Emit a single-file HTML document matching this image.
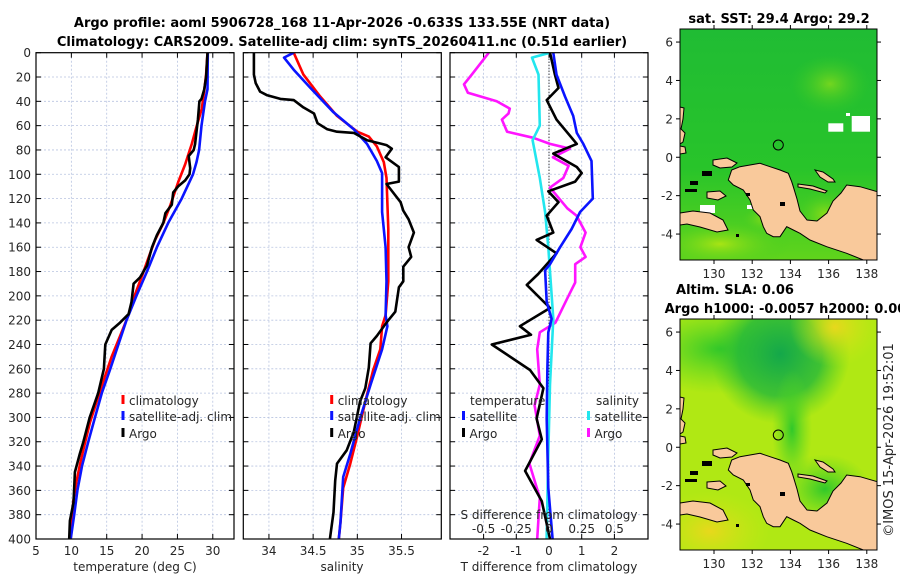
<!DOCTYPE html>
<html><head><meta charset="utf-8">
<style>
html,body{margin:0;padding:0;background:#fff;}
svg{display:block;font-family:"DejaVu Sans","Liberation Sans",sans-serif;}
.tk{font-size:12px;fill:#262626;}
.ttl{font-size:13px;font-weight:bold;fill:#000;}
</style></head>
<body>
<svg id="fig" width="900" height="580" viewBox="0 0 900 580" xmlns="http://www.w3.org/2000/svg">
<defs>
<clipPath id="c1"><rect x="36" y="52.7" width="198" height="486.3"/></clipPath>
<clipPath id="c2"><rect x="243.3" y="52.7" width="198" height="486.3"/></clipPath>
<clipPath id="c3"><rect x="450" y="52.7" width="198" height="486.3"/></clipPath>
<clipPath id="mc"><rect x="0" y="0" width="197" height="231"/></clipPath>
<radialGradient id="gDark" cx="0.5" cy="0.5" r="0.5"><stop offset="0" stop-color="#14a84a"/><stop offset="0.6" stop-color="#22b83a" stop-opacity="0.8"/><stop offset="1" stop-color="#44cc22" stop-opacity="0"/></radialGradient>
<radialGradient id="gYel" cx="0.5" cy="0.5" r="0.5"><stop offset="0" stop-color="#e8d81c"/><stop offset="1" stop-color="#c8e814" stop-opacity="0"/></radialGradient>
<radialGradient id="gGrn" cx="0.5" cy="0.5" r="0.5"><stop offset="0" stop-color="#30c82a"/><stop offset="1" stop-color="#60d820" stop-opacity="0"/></radialGradient>
<radialGradient id="gLime" cx="0.5" cy="0.5" r="0.5"><stop offset="0" stop-color="#a8e414"/><stop offset="1" stop-color="#40cc22" stop-opacity="0"/></radialGradient>
<linearGradient id="gSst" x1="0" y1="0" x2="0" y2="1"><stop offset="0" stop-color="#20bc34"/><stop offset="0.6" stop-color="#28c42a"/><stop offset="1" stop-color="#60d41c"/></linearGradient>
<g id="land">
<polygon fill="#f9c99b" stroke="#000" stroke-width="1" points="51.7,141 60,137.7 80,134.3 90,137.7 100,141 108.3,144.3 111.7,152.7 113.3,157.7 117,170 120,182 127,191 137,192 147,184 153,172 161,164 166.7,156 180,157.7 197.3,162.7 197.3,232.7 183.3,231 166.7,224.3 146.7,217.7 130,211 120,204.3 113.3,201 106.7,197.7 100,207.7 93.3,207.7 86.7,204.3 83.3,197.7 80,187.7 73.3,181 70,171 63.3,161 53.3,156 48.3,151"/>
<polygon fill="#f9c99b" stroke="#000" stroke-width="1" points="0,184 13,182 30,184 43,191 48,201 37,203 20,198 7,195 0,196"/>
<polygon fill="#f9c99b" stroke="#000" stroke-width="1" points="27,163 40,162 46,167 38,171 27,169"/>
<polygon fill="#f9c99b" stroke="#000" stroke-width="1" points="33,131 47,129 57,134 52,138 40,139 33,136"/>
<polygon fill="#f9c99b" stroke="#000" stroke-width="1" points="0,78 4,79 3,90 1,100 5,104 3,113 0,115"/>
<polygon fill="#f9c99b" stroke="#000" stroke-width="1" points="0,117 5,118 6,124 0,125"/>
<polygon fill="#f9c99b" stroke="#000" stroke-width="1" points="135,141 143,143 153,150 155,153 148,153 140,148"/>
<polygon fill="#f9c99b" stroke="#000" stroke-width="1" points="118,155 133,157 147,162 145,164 130,160 118,158"/>
<g fill="#000"><rect x="10" y="152" width="8" height="4"/><rect x="22" y="142" width="10" height="5"/><rect x="5" y="160" width="12" height="3"/><rect x="66" y="164" width="4" height="3"/><rect x="100" y="173" width="5" height="4"/><rect x="56" y="205" width="3" height="3"/></g>
<circle cx="98.3" cy="116" r="5" fill="none" stroke="#000" stroke-width="1"/>
</g>
</defs>

<text class="ttl" x="342" y="27" text-anchor="middle">Argo profile: aoml 5906728_168 11-Apr-2026 -0.633S 133.55E (NRT data)</text>
<text class="ttl" x="342" y="46" text-anchor="middle">Climatology: CARS2009. Satellite-adj clim: synTS_20260411.nc (0.51d earlier)</text>

<g id="panels"></g>

<text class="ttl" x="779" y="23" text-anchor="middle">sat. SST: 29.4 Argo: 29.2</text>
<g transform="translate(680,29)">
<g clip-path="url(#mc)">
<rect width="197" height="231" fill="url(#gSst)"/>
<ellipse cx="150" cy="55" rx="40" ry="30" fill="url(#gLime)" opacity="0.6"/>
<ellipse cx="40" cy="215" rx="70" ry="25" fill="url(#gLime)"/>
<ellipse cx="145" cy="185" rx="30" ry="25" fill="url(#gLime)" opacity="0.7"/>
<ellipse cx="85" cy="190" rx="25" ry="15" fill="url(#gLime)" opacity="0.7"/>
<rect x="148.3" y="94.3" width="15" height="8.4" fill="#fff"/>
<rect x="171.7" y="87" width="18.3" height="15.7" fill="#fff"/>
<rect x="166" y="84" width="4" height="3" fill="#fff"/>
<rect x="20" y="176" width="15" height="8" fill="#fff"/>
<rect x="67" y="176" width="7" height="4" fill="#fff"/>
<use href="#land"/>
</g>
<rect width="197" height="231" fill="none" stroke="#000" stroke-width="1"/>
</g>
<text class="ttl" x="735" y="294" text-anchor="middle">Altim. SLA: 0.06</text>
<text class="ttl" x="790" y="313" text-anchor="middle">Argo h1000: -0.0057 h2000: 0.003</text>
<g transform="translate(680,319)">
<g clip-path="url(#mc)">
<rect width="197" height="231" fill="#b0e814"/>
<ellipse cx="40" cy="30" rx="90" ry="45" fill="url(#gGrn)"/>
<ellipse cx="100" cy="35" rx="70" ry="70" fill="url(#gDark)"/>
<ellipse cx="112" cy="110" rx="20" ry="60" fill="url(#gGrn)"/>
<ellipse cx="145" cy="170" rx="45" ry="35" fill="url(#gGrn)"/>
<ellipse cx="155" cy="8" rx="45" ry="40" fill="url(#gYel)"/>
<ellipse cx="30" cy="212" rx="60" ry="40" fill="url(#gYel)"/>
<use href="#land"/>
</g>
<rect width="197" height="231" fill="none" stroke="#000" stroke-width="1"/>
</g>
<text class="tk" transform="translate(893,440) rotate(-90)" text-anchor="middle" style="font-size:13px">©IMOS 15-Apr-2026 19:52:01</text>
</svg>

<script>
const climDepth = [0,18,32,46,60,75,92,106,126,140,154,165,182,199,216,233,250,270,287,304,321,338,352,369,400];
const climTemp  = [29.25,29.06,28.77,28.44,27.74,27.03,26.08,25.14,23.96,23.02,21.84,21.13,20.09,19.0,18.07,16.89,15.71,14.53,13.58,12.64,11.93,11.23,10.75,10.28,9.9];
const satDepthT = [0,30,40,60,80,90,100,120,140,160,180,200,220,240,260,280,300,320,340,360,380,400];
const satTemp   = [29.3,29.25,28.9,28.4,28.07,27.7,27.2,25.6,23.7,22.1,20.7,19.2,17.8,16.65,15.5,14.3,13.35,12.4,11.5,10.85,10.4,9.9];
const argoDepthT = [0,20,30,38,40,55,75,80,85,95,100,105,110,115,125,132,140,150,160,175,185,190,205,215,222,228,240,260,280,300,320,330,345,370,385,400];
const argoTemp   = [29.25,29.06,28.8,28.4,28.1,27.9,27.5,27.3,26.6,26.8,26.7,26.1,25.1,24.4,24.2,23.3,23.0,22.1,21.4,20.7,19.7,18.8,18.5,18.1,16.9,15.7,14.8,14.6,13.8,12.6,11.7,11.2,10.5,10.3,9.8,9.7];

const climDepthS = [0,18,36,52,65,69,77,90,103,145,188,216,225,244,261,287,315,338,358,386,400];
const climSal    = [34.28,34.39,34.58,34.77,35.0,35.13,35.22,35.30,35.33,35.35,35.35,35.32,35.28,35.26,35.18,35.09,35.0,34.92,34.84,34.81,34.79];
const satDepthS = [0,4,14,29,49,63,75,89,99,131,160,188,216,225,244,273,301,330,349,386,400];
const satSal    = [34.28,34.17,34.28,34.47,34.73,34.96,35.11,35.22,35.28,35.28,35.32,35.33,35.32,35.34,35.28,35.15,35.03,34.92,34.84,34.81,34.79];
const argoDepthS = [0,18,25,32,35,38,39,45,50,58,63,65,66,72,76,79,86,94,106,108,123,130,137,148,160,168,176,188,193,213,222,233,239,259,276,287,312,327,338,352,378,400];
const argoSal    = [33.83,33.83,33.85,33.9,33.98,34.13,34.28,34.39,34.51,34.55,34.66,34.77,34.96,35.11,35.33,35.39,35.32,35.47,35.47,35.33,35.49,35.52,35.58,35.64,35.58,35.61,35.52,35.52,35.47,35.43,35.33,35.22,35.15,35.13,35.09,35.03,34.96,34.88,34.77,34.75,34.73,34.69];

const diffDepthTsat = [0,18,36,52,66,75,89,120,131,145,160,174,179,205,219,230,259,301,358,400];
const diffTsat      = [0.13,0.23,0.49,0.74,0.85,1.05,1.3,1.34,0.95,0.69,0.34,0.03,-0.12,-0.07,0.08,-0.02,-0.05,-0.07,-0.02,0.11];
const diffDepthSsat = [0,4,18,60,72,103,131,160,219,273,330,400];
const diffSsat      = [0.008,-0.13,-0.08,-0.07,-0.125,-0.07,-0.03,-0.005,0.033,0.008,-0.005,-0.018];
const diffDepthSargo = [0,18,26,33,40,46,50,55,65,70,75,79,86,93,103,111,128,134,148,160,168,174,189,202,222,230,244,273,290,315,338,366,400];
const diffSargo      = [-0.46,-0.59,-0.65,-0.62,-0.40,-0.30,-0.31,-0.36,-0.32,-0.12,0.008,0.16,0.03,0.15,0.11,0.008,0.14,0.21,0.28,0.24,0.28,0.2,0.2,0.14,0.05,-0.07,-0.09,-0.07,-0.11,-0.07,-0.15,-0.07,-0.09];
const diffDepthTargo = [0,18,29,39,55,75,83,94,99,106,114,123,134,148,154,165,182,191,210,225,232,240,261,276,301,318,344,369,400];
const diffTargo      = [0.03,0.18,0.29,-0.07,0.23,0.85,0.13,0.85,1.0,0.8,-0.02,0.29,-0.07,0.13,-0.38,0.23,-0.33,-0.68,0.03,-0.89,-0.55,-1.75,-0.58,-0.17,-0.38,-0.22,-0.73,-0.22,0.03];

const depthTicks = [0,20,40,60,80,100,120,140,160,180,200,220,240,260,280,300,320,340,360,380,400];
const tempTicks = [5,10,15,20,25,30];
const salTicks = [34,34.5,35,35.5];
const salTickLabels = ['34','34.5','35','35.5'];
const diffTTicks = [-2,-1,0,1,2];
const diffSTicks = [-0.5,-0.25,0,0.25,0.5];
const diffSTickLabels = ['-0.5','-0.25','0','0.25','0.5'];

const Y0 = 52.7, PH = 486.3;
const yD = d => Y0 + d / 400 * PH;
const xT = t => 36 + (t - 5) / 28 * 198;
const xS = s => 243.3 + (s - 33.71) / 2.24 * 198;
const xdT = t => 549 + t * 32.7;
const xdS = s => 549 + s * 4 * 32.7;

const NS = 'http://www.w3.org/2000/svg';
const root = document.getElementById('panels');
function mk(tag, attrs, parent) {
  const e = document.createElementNS(NS, tag);
  for (const k in attrs) e.setAttribute(k, attrs[k]);
  (parent || root).appendChild(e);
  return e;
}
function txt(x, y, s, anchor, cls, parent) {
  const t = mk('text', {x: x, y: y, 'text-anchor': anchor || 'middle', class: cls || 'tk'}, parent);
  t.textContent = s;
  return t;
}

function panel(left, name, xticks, xfn, xlabels, ylabels) {
  const g = mk('g', {});
  
  
  const right = left + 198, bot = Y0 + PH;
  depthTicks.forEach(d => {
    const y = yD(d);
    if (d > 0 && d < 400) {
      const l = mk('line', {x1: left, x2: right, y1: y, y2: y, stroke: '#b8c4e0', 'stroke-width': 0.8, 'stroke-dasharray': '2,2'}, g);
      
      
    }
    mk('line', {x1: left, x2: left + 5, y1: y, y2: y, stroke: '#000'}, g);
    mk('line', {x1: right - 5, x2: right, y1: y, y2: y, stroke: '#000'}, g);
    if (ylabels) {
      const t = txt(left - 5, y + 4.5, String(d), 'end', 'tk', g);
      
      
    }
  });
  xticks.forEach((v, i) => {
    const x = xfn(v);
    if (x > left + 1 && x < right - 1) {
      const l = mk('line', {x1: x, x2: x, y1: Y0, y2: bot, stroke: '#b8c4e0', 'stroke-width': 0.8, 'stroke-dasharray': '2,2'}, g);
      
      
    }
    mk('line', {x1: x, x2: x, y1: bot, y2: bot - 5, stroke: '#000'}, g);
    mk('line', {x1: x, x2: x, y1: Y0, y2: Y0 + 5, stroke: '#000'}, g);
    const t = txt(x, bot + 16, xlabels[i], 'middle', 'tk', g);
    
    
  });
  return g;
}
function frame(left, g) {
  mk('rect', {x: left, y: Y0, width: 198, height: PH, fill: 'none', stroke: '#000', 'stroke-width': 1.2}, g);
}
function series(depths, vals, xfn, color, clip, name, g) {
  const pts = depths.map((d, i) => xfn(vals[i]).toFixed(1) + ',' + yD(d).toFixed(1)).join(' ');
  const p = mk('polyline', {points: pts, fill: 'none', stroke: color, 'stroke-width': 2.6, 'stroke-linejoin': 'round', 'clip-path': 'url(#' + clip + ')'}, g);
  
  
}
function legendEntry(xm, y, color, label, g) {
  const lg = mk('g', {}, g);
  
  
  mk('rect', {x: xm - 1.5, y: y - 10, width: 3, height: 9, fill: color}, lg);
  txt(xm + 6, y, label, 'start', 'tk', lg);
}

const p1 = panel(36, 'temperature-panel', tempTicks, xT, tempTicks.map(String), true);
series(climDepth, climTemp, xT, '#ff0000', 'c1', 'temperature-climatology-line', p1);
series(satDepthT, satTemp, xT, '#0a14ff', 'c1', 'temperature-satellite-line', p1);
series(argoDepthT, argoTemp, xT, '#000', 'c1', 'temperature-argo-line', p1);
frame(36, p1);
let t = txt(135, 571, 'temperature (deg C)', 'middle', 'tk', p1);


legendEntry(123, 405, '#ff0000', 'climatology', p1);
legendEntry(123, 421, '#0a14ff', 'satellite-adj. clim', p1);
legendEntry(123, 438, '#000', 'Argo', p1);

const p2 = panel(243.3, 'salinity-panel', salTicks, xS, salTickLabels, false);
series(climDepthS, climSal, xS, '#ff0000', 'c2', 'salinity-climatology-line', p2);
series(satDepthS, satSal, xS, '#0a14ff', 'c2', 'salinity-satellite-line', p2);
series(argoDepthS, argoSal, xS, '#000', 'c2', 'salinity-argo-line', p2);
frame(243.3, p2);
t = txt(342, 571, 'salinity', 'middle', 'tk', p2);


legendEntry(331.7, 405, '#ff0000', 'climatology', p2);
legendEntry(331.7, 421, '#0a14ff', 'satellite-adj. clim', p2);
legendEntry(331.7, 438, '#000', 'Argo', p2);

const p3 = panel(450, 'difference-panel', diffTTicks, xdT, diffTTicks.map(String), false);
const zl = mk('line', {x1: xdT(0), x2: xdT(0), y1: Y0, y2: Y0 + PH, stroke: '#000', 'stroke-width': 1, 'stroke-dasharray': '1,2'}, p3);


series(diffDepthSargo, diffSargo, xdS, '#ff14ff', 'c3', 'salinity-argo-diff-line', p3);
series(diffDepthSsat, diffSsat, xdS, '#22e6ee', 'c3', 'salinity-satellite-diff-line', p3);
series(diffDepthTargo, diffTargo, xdT, '#000', 'c3', 'temperature-argo-diff-line', p3);
series(diffDepthTsat, diffTsat, xdT, '#0a14ff', 'c3', 'temperature-satellite-diff-line', p3);
frame(450, p3);
t = txt(549, 571, 'T difference from climatology', 'middle', 'tk', p3);


t = txt(549, 519, 'S difference from climatology', 'middle', 'tk', p3);


diffSTicks.forEach((v, i) => {
  const s = txt(xdS(v), 533, diffSTickLabels[i], 'middle', 'tk', p3);
  
  
});
t = txt(470, 405, 'temperature', 'start', 'tk', p3);


t = txt(596, 405, 'salinity', 'start', 'tk', p3);


legendEntry(463.5, 421, '#0a14ff', 'satellite', p3);
legendEntry(463.5, 438, '#000', 'Argo', p3);
legendEntry(588.5, 421, '#22e6ee', 'satellite', p3);
legendEntry(588.5, 438, '#ff14ff', 'Argo', p3);

const lonTicks = [130,132,134,136,138];
const latTicks = [6,4,2,0,-2,-4];
const mapLonX = lon => 680 + (lon - 128.22) * 19.1;
const mapLatY = lat => 29 + (6.68 - lat) * 19.2;
[[29,'sst'],[319,'sla']].forEach(([top, nm]) => {
  const g = mk('g', {});
  
  
  lonTicks.forEach(lon => {
    const x = mapLonX(lon);
    mk('line', {x1: x, x2: x, y1: top + 231, y2: top + 235, stroke: '#000'}, g);
    mk('line', {x1: x, x2: x, y1: top, y2: top - 4, stroke: '#000'}, g);
    const s = txt(x, top + 249, String(lon), 'middle', 'tk', g);
    
    
  });
  latTicks.forEach(lat => {
    const y = mapLatY(lat) - 29 + top;
    mk('line', {x1: 680, x2: 676, y1: y, y2: y, stroke: '#000'}, g);
    mk('line', {x1: 877, x2: 881, y1: y, y2: y, stroke: '#000'}, g);
    const s = txt(673, y + 4.5, String(lat), 'end', 'tk', g);
    
    
  });
});
</script>
</body></html>
